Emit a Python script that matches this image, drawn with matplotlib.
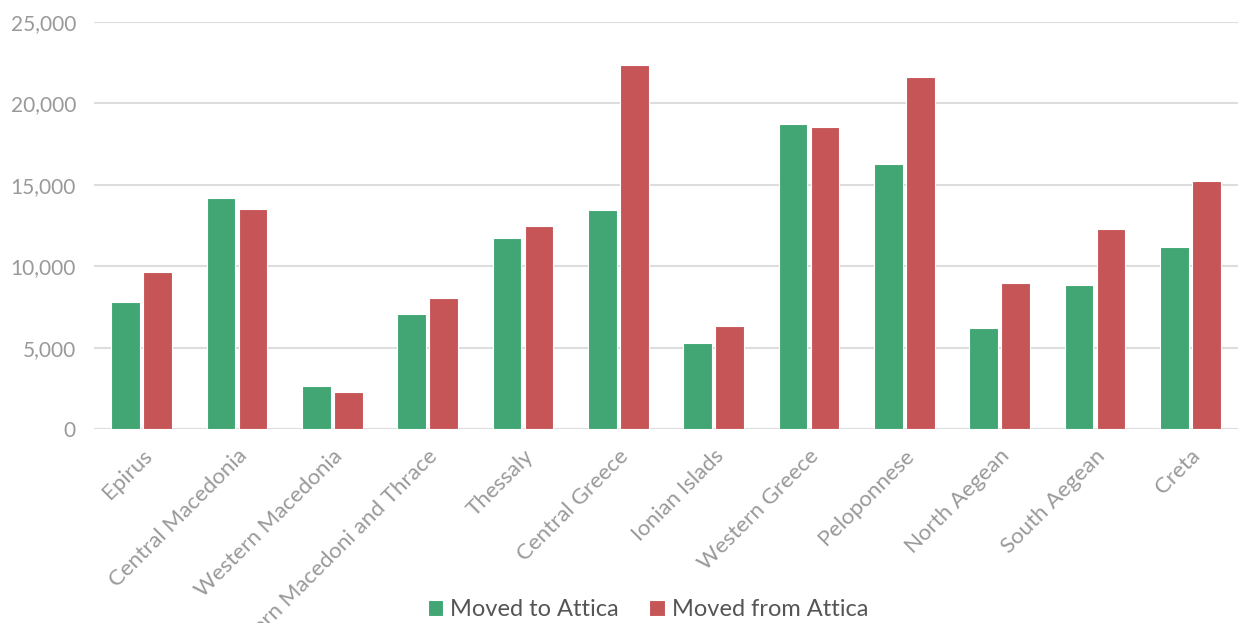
import matplotlib
matplotlib.use("Agg")
import matplotlib.pyplot as plt
import numpy as np
from matplotlib.ticker import FuncFormatter

categories = ["Epirus", "Central Macedonia", "Western Macedonia", "Eastern Macedoni and Thrace",
              "Thessaly", "Central Greece", "Ionian Islads", "Western Greece", "Peloponnese",
              "North Aegean", "South Aegean", "Creta"]
moved_to = [7800, 14200, 2640, 7060, 11730, 13450, 5280, 18730, 16300, 6200, 8850, 11180]
moved_from = [9650, 13530, 2270, 8050, 12470, 22380, 6330, 18580, 21620, 8970, 12300, 15230]
series_names = ["Moved to Attica", "Moved from Attica"]
colors = ["#41a673", "#c65558"]

plt.rcParams['font.family'] = ['Lato', 'DejaVu Sans']

fig = plt.figure(figsize=(12.38, 6.23), dpi=100)
ax = fig.add_axes([94/1238, 1-429/623, 1144/1238, 407/623])

x = np.arange(len(categories))
w = 0.30
off = 0.168
ax.bar(x - off, moved_to, width=w, color=colors[0], edgecolor="white", linewidth=0.8, label=series_names[0], zorder=3)
ax.bar(x + off, moved_from, width=w, color=colors[1], edgecolor="white", linewidth=0.8, label=series_names[1], zorder=3)

ax.set_xlim(-0.5, len(categories) - 0.5)
ax.set_ylim(0, 25000)
ax.set_yticks(np.arange(0, 25001, 5000))
ax.yaxis.set_major_formatter(FuncFormatter(lambda v, p: f"{int(v):,}"))
ax.grid(axis="y", color="#dddddd", linewidth=1.5, zorder=0)
for s in ax.spines.values():
    s.set_visible(False)
ax.tick_params(axis="both", length=0, labelsize=16, labelcolor="#999999")
ax.tick_params(axis="y", pad=13, labelsize=15)
ax.set_xticks(x)
ax.set_xticklabels(categories, rotation=45, ha="right", rotation_mode="anchor")
ax.tick_params(axis="x", pad=12)

leg = fig.legend(loc="center", bbox_to_anchor=(648/1238, 1-610/623), ncol=2, frameon=False,
                 fontsize=17, handlelength=0.65, handleheight=0.65, handletextpad=0.3, columnspacing=1.28)
for t in leg.get_texts():
    t.set_color("#555555")

fig.savefig("out.png", dpi=100)
